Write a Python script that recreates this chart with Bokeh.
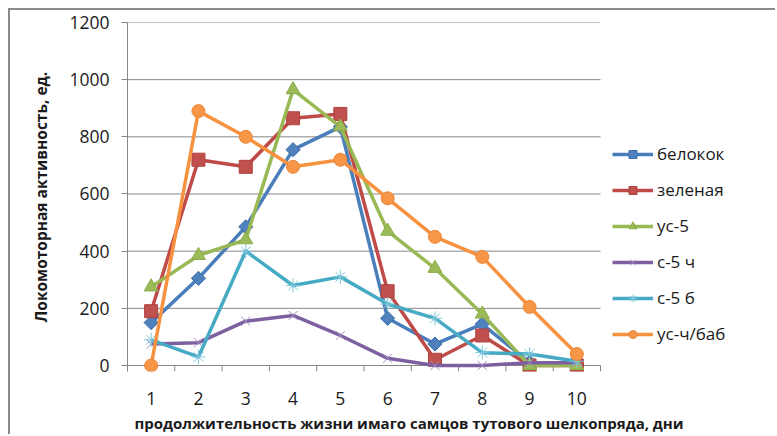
from bokeh.plotting import figure
from bokeh.models import Range1d, FixedTicker, Legend, LegendItem, Title
from bokeh.embed import file_html
from bokeh.resources import INLINE
import math

# Lifespan of adult males (days) and locomotor activity per line
days = [1, 2, 3, 4, 5, 6, 7, 8, 9, 10]
belokok = [150, 305, 485, 755, 835, 165, 75, 145, 10, 5]
zelenaya = [190, 720, 695, 865, 880, 260, 20, 105, 0, 0]
us5 = [275, 385, 440, 965, 835, 470, 340, 180, 0, 0]
s5_ch = [75, 80, 155, 175, 105, 25, 0, 0, 10, 10]
s5_b = [90, 30, 400, 280, 310, 215, 165, 45, 40, 15]
us_ch_bab = [0, 890, 800, 695, 720, 585, 450, 380, 205, 40]

series_names = ["белокок", "зеленая", "ус-5", "с-5 ч", "с-5 б", "ус-ч/баб"]
y_ticks = [0, 200, 400, 600, 800, 1000, 1200]
x_title = "продолжительность жизни имаго самцов тутового шелкопряда, дни"
y_title = "Локомоторная активность, ед."

FONT = "Open Sans"
GRID = "#868686"
TEXT = "#1a1a1a"
TICK_DEPTH = 21          # data units below zero kept for the category tick marks
CAT_PX = 47.3            # pixels per category
FRAME_W = 650            # frame runs on to the right edge so the legend fits inside

x_lo = days[0] - 0.5
x_hi = days[-1] + 0.5

p = figure(
    width=767, height=426,
    x_range=Range1d(x_lo, x_lo + FRAME_W / CAT_PX), y_range=Range1d(-TICK_DEPTH, 1200),
    output_backend="svg", toolbar_location=None,
    min_border_left=117, min_border_right=0,
    min_border_top=12, min_border_bottom=65,
)
p.margin = (8, 0, 0, 8)
p.styles = {"border-top": "2px solid #8a8a8a", "border-left": "2px solid #8a8a8a"}
p.outline_line_color = None
p.background_fill_color = "white"
p.border_fill_color = "white"
p.grid.visible = False

# y axis
p.yaxis.ticker = FixedTicker(ticks=y_ticks)
p.yaxis.axis_line_color = GRID
p.yaxis.major_tick_line_color = GRID
p.yaxis.major_tick_out = 6
p.yaxis.major_tick_in = 0
p.yaxis.minor_tick_line_color = None
p.yaxis.major_label_standoff = 12
p.yaxis.major_label_text_font = FONT
p.yaxis.major_label_text_font_size = "17.5px"
p.yaxis.major_label_text_color = TEXT
p.yaxis.axis_label = y_title
p.yaxis.axis_label_text_font = FONT
p.yaxis.axis_label_text_font_size = "15.5px"
p.yaxis.axis_label_text_font_style = "bold"
p.yaxis.axis_label_text_color = TEXT
p.yaxis.axis_label_standoff = 14

# x axis: labels only; its line, the category ticks and the grid are drawn as segments
p.xaxis.ticker = FixedTicker(ticks=days)
p.xaxis.axis_line_color = None
p.xaxis.major_tick_line_color = None
p.xaxis.minor_tick_line_color = None
p.xaxis.major_label_standoff = 14
p.xaxis.major_label_text_font = FONT
p.xaxis.major_label_text_font_size = "17.5px"
p.xaxis.major_label_text_color = TEXT

p.segment(x0=[x_lo] * len(y_ticks), y0=y_ticks, x1=[x_hi] * len(y_ticks), y1=y_ticks,
          line_color=GRID, line_width=1)
bounds = [d - 0.5 for d in days] + [x_hi]
p.segment(x0=bounds, y0=[0] * len(bounds), x1=bounds, y1=[-TICK_DEPTH] * len(bounds),
          line_color=GRID, line_width=1)

# x axis title, shifted right of the frame centre
p.add_layout(Title(text=x_title, align="left", offset=7, standoff=6,
                   text_font=FONT, text_font_size="15px", text_font_style="bold",
                   text_color=TEXT), "below")

styles = [
    # values, line colour, marker, size, angle, marker fill, marker line
    (belokok, "#4a7ebb", "square", 10, math.pi / 4, "#4f81bd", "#3c6eaa"),
    (zelenaya, "#be4b48", "square", 13, 0, "#c0504d", "#b0413e"),
    (us5, "#98b954", "triangle", 14, 0, "#9bbb59", "#8aac48"),
    (s5_ch, "#7d60a0", "x", 13, 0, None, "#a38fc2"),
    (s5_b, "#46aac5", "asterisk", 14, 0, None, "#7fc8dc"),
    (us_ch_bab, "#f69240", "circle", 13, 0, "#f79646", "#e8873a"),
]

items = []
for name, (vals, lc, marker, size, angle, fill, mline) in zip(series_names, styles):
    lr = p.line(days, vals, line_color=lc, line_width=3.5, line_join="round")
    sr = p.scatter(days, vals, marker=marker, size=size, angle=angle,
                   fill_color=fill, line_color=mline, line_width=1)
    items.append(LegendItem(label=name, renderers=[lr, sr]))

legend = Legend(items=items, location=(485, 26))
legend.margin = 0
legend.padding = 0
legend.border_line_color = None
legend.background_fill_alpha = 0
legend.glyph_width = 41
legend.glyph_height = 20
legend.label_height = 20
legend.spacing = 13
legend.label_standoff = 4
legend.label_text_font = FONT
legend.label_text_font_size = "17px"
legend.label_text_color = TEXT
p.add_layout(legend)

open("out.html", "w").write(file_html(p, INLINE))
